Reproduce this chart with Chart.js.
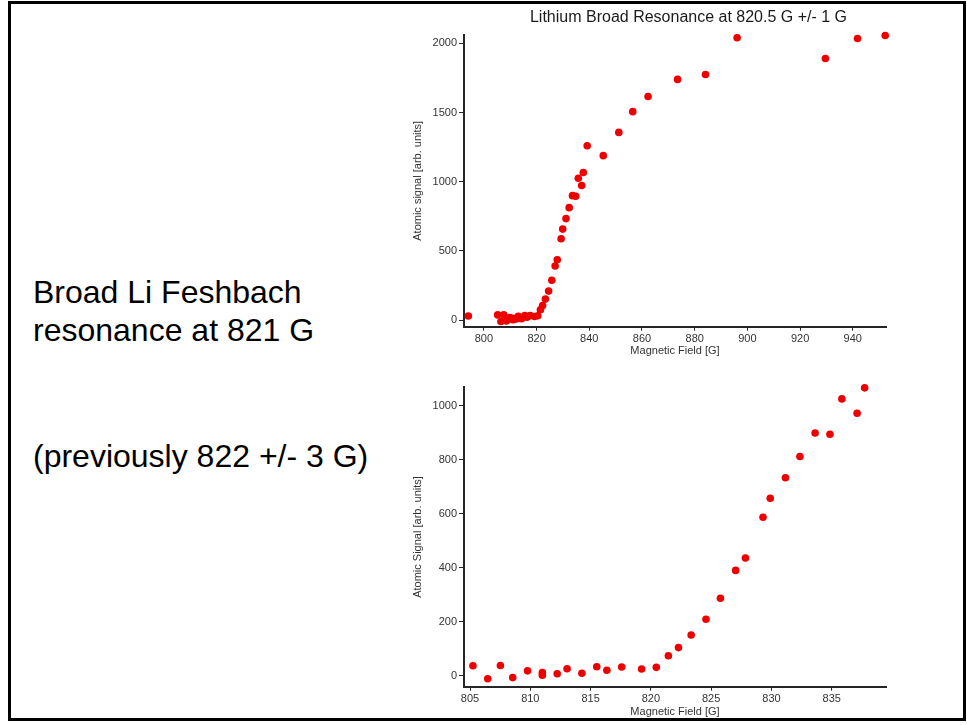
<!DOCTYPE html>
<html>
<head>
<meta charset="utf-8">
<script src="https://cdn.jsdelivr.net/npm/chart.js@4.4.1/dist/chart.umd.min.js"></script>
<style>
  html, body { margin: 0; padding: 0; background: #fff; width: 967px; height: 725px; overflow: hidden; }
  #frame { position: absolute; left: 8px; top: 1px; width: 952px; height: 714px; border: 3px solid #000; pointer-events: none; z-index: 2; }
  .note { position: absolute; left: 33px; font: 32px "Liberation Sans", Arial, Helvetica, sans-serif; color: #000; line-height: 38px; white-space: nowrap; }
  canvas { position: absolute; left: 400px; }
  #wide { top: 0; }
  #zoomed { top: 370px; }
</style>
</head>
<body>
<div id="frame"></div>
<div class="note" style="top:273px">Broad Li Feshbach<br>resonance at 821 G</div>
<div class="note" style="top:437px">(previously 822 +/- 3 G)</div>
<canvas id="wide" width="577" height="360"></canvas>
<canvas id="zoomed" width="577" height="352"></canvas>
<script>
// Scan near the resonance (805–838 G), shown in both panels
const fieldLow = [805.24, 806.47, 807.52, 808.54, 809.77, 811.0, 811.0, 812.23, 813.05, 814.28,
                  815.51, 816.35, 817.58, 819.23, 820.45, 821.45, 822.29, 823.34, 824.57, 825.77,
                  827.03, 827.84, 829.3, 829.9, 831.16, 832.36, 833.62, 834.85, 835.84, 837.1, 837.73];
const signalLow = [37, -11, 38, -7, 18, 12, 2, 7, 26, 9,
                   33, 20, 32, 25, 31, 74, 104, 151, 209, 287,
                   390, 436, 587, 657, 733, 812, 899, 894, 1025, 972, 1066];

// Additional points of the wide scan
const fieldWide = [794.1, 839.2, 845.3, 851.2, 856.5, 862.3, 873.5, 884.1, 896.1, 929.6, 941.8, 952.3];
const signalWide = [29, 1260, 1188, 1356, 1506, 1616, 1739, 1775, 2040, 1890, 2035, 2056];

// Axis ticks and extents
const xTicksWide = [800, 820, 840, 860, 880, 900, 920, 940];
const yTicksWide = [0, 500, 1000, 1500, 2000];
const xTicksZoomed = [805, 810, 815, 820, 825, 830, 835];
const yTicksZoomed = [0, 200, 400, 600, 800, 1000];
const xRangeWide = [792.45, 952.6];
const yRangeWide = [-48.4, 2060];
const xRangeZoomed = [804.5, 839.5];
const yRangeZoomed = [-40.7, 1068];

const titleWide = 'Lithium Broad Resonance at 820.5 G +/- 1 G';
const xTitle = 'Magnetic Field [G]';
const yTitleWide = 'Atomic signal [arb. units]';
const yTitleZoomed = 'Atomic Signal [arb. units]';

const FONT = '"Liberation Sans", Arial, Helvetica, sans-serif';
const AXIS = '#262626';
const LABEL = '#333333';
const DOT = '#ee0000';

function toPoints(xs, ys) {
  return xs.map((x, i) => ({ x: x, y: ys[i] }));
}

function axis(position, range, ticks, title, size, tickLen, tickPad, titlePad) {
  return {
    type: 'linear',
    position: position,
    min: range[0],
    max: range[1],
    afterBuildTicks: s => { s.ticks = ticks.map(v => ({ value: v })); },
    afterFit: s => { if (position === 'left') s.width = size; else s.height = size; },
    grid: { display: true, drawOnChartArea: false, drawTicks: true, tickLength: tickLen, color: AXIS, lineWidth: 1 },
    border: { display: true, color: AXIS, width: 2 },
    ticks: { color: LABEL, font: { family: FONT, size: 11 }, padding: tickPad,
             maxRotation: 0, autoSkip: false, callback: v => String(v) },
    title: { display: true, text: title, color: LABEL, font: { family: FONT, size: 11 }, padding: titlePad }
  };
}

// Empty right-hand axis reserving space so the plot box sits where it should
const spacer = {
  type: 'linear', position: 'right', display: true,
  grid: { display: false }, border: { display: false },
  ticks: { display: false }, title: { display: false },
  afterFit: s => { s.width = 91; }
};

function scatter(canvasId, points, xAxis, yAxis, title, padTop) {
  return new Chart(document.getElementById(canvasId), {
    type: 'scatter',
    data: { datasets: [{
      data: points,
      pointRadius: 3.8,
      pointHoverRadius: 3.8,
      pointBackgroundColor: DOT,
      pointBorderColor: DOT,
      pointBorderWidth: 0,
      showLine: false,
      clip: false
    }] },
    options: {
      responsive: false,
      animation: false,
      devicePixelRatio: 1,
      layout: { padding: { top: padTop, right: 0, bottom: 0, left: 0 } },
      plugins: {
        legend: { display: false },
        tooltip: { enabled: false },
        title: title
      },
      scales: { x: xAxis, y: yAxis, pad: spacer }
    }
  });
}

scatter('wide',
  toPoints(fieldWide.slice(0, 1).concat(fieldLow, fieldWide.slice(1)),
           signalWide.slice(0, 1).concat(signalLow, signalWide.slice(1))),
  axis('bottom', xRangeWide, xTicksWide, xTitle, 33.3, 4, 2, { top: 0, bottom: 2 }),
  axis('left', yRangeWide, yTicksWide, yTitleWide, 64, 5, 2, { top: 11, bottom: 0 }),
  { display: true, text: titleWide, color: '#1a1a1a',
    font: { family: FONT, size: 16, weight: 'normal' }, padding: { top: 8, bottom: 7.8 } },
  0);

scatter('zoomed',
  toPoints(fieldLow, signalLow),
  axis('bottom', xRangeZoomed, xTicksZoomed, xTitle, 35.3, 4, 2, { top: 0, bottom: 3 }),
  axis('left', yRangeZoomed, yTicksZoomed, yTitleZoomed, 64, 5, 2, { top: 11, bottom: 0 }),
  { display: false },
  17.3);
</script>
</body>
</html>
